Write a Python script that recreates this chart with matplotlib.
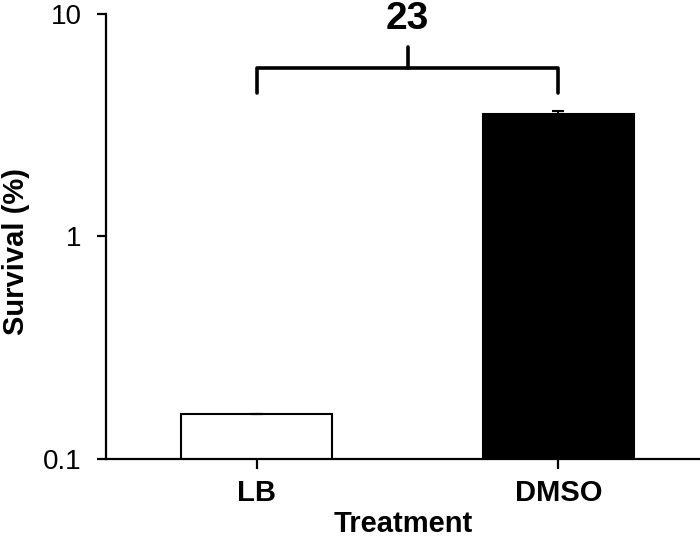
"""Survival bar chart, LB vs DMSO, log scale."""

import matplotlib

matplotlib.use("Agg")
import matplotlib.pyplot as plt

plt.rcParams["font.family"] = ["Liberation Sans", "DejaVu Sans"]

treatments = ["LB", "DMSO"]
survival = [0.16, 3.57]
survival_err = [0.0, 0.1]
bar_colors = ["white", "black"]
fold_label = "23"
# bracket levels (survival %): leg bottom, bar, centre tick top
bracket_levels = [4.4, 5.7, 7.1]
label_level = 8.6


def main() -> None:
    fig = plt.figure(figsize=(7.0, 5.37), dpi=100)
    ax = fig.add_axes([0.1514, 0.1453, 0.8486, 0.8286])

    xs = list(range(len(treatments)))
    ax.bar(xs, survival, width=0.5, color=bar_colors, edgecolor="black",
           linewidth=1.5, zorder=2)
    ax.errorbar(xs, survival, yerr=[[0, 0], survival_err], fmt="none",
                ecolor="black", elinewidth=1.5, capsize=4, capthick=1.5, zorder=3)

    ax.set_yscale("log")
    ax.set_ylim(0.1, 10)
    ax.set_xlim(-0.5, 1.47)
    ax.set_yticks([0.1, 1, 10])
    ax.set_yticklabels(["0.1", "1", "10"])
    ax.minorticks_off()
    ax.set_xticks(xs)
    ax.set_xticklabels(treatments, fontweight="bold")

    for side in ("top", "right"):
        ax.spines[side].set_visible(False)
    for side in ("left", "bottom"):
        ax.spines[side].set_linewidth(1.6)
    ax.tick_params(axis="y", direction="out", length=6.5, width=1.6, labelsize=20, pad=11)
    ax.tick_params(axis="x", direction="out", length=7.5, width=1.6, labelsize=21, pad=7)

    ax.set_ylabel("Survival (%)", fontsize=21, fontweight="bold")
    ax.yaxis.set_label_coords(-0.128, 0.467)
    ax.set_xlabel("Treatment", fontsize=21, fontweight="bold", labelpad=2)

    low, mid, high = bracket_levels
    ax.plot([xs[0], xs[0], xs[1], xs[1]], [low, mid, mid, low], color="black",
            linewidth=2.6, solid_capstyle="round", solid_joinstyle="round",
            clip_on=False)
    centre = sum(xs) / len(xs)
    ax.plot([centre, centre], [mid, high], color="black", linewidth=2.6,
            solid_capstyle="round", clip_on=False)
    ax.text(centre, label_level, fold_label, ha="center", va="baseline",
            fontsize=28, fontweight="bold")

    fig.savefig("out.png", dpi=100)
    plt.close(fig)


if __name__ == "__main__":
    main()
